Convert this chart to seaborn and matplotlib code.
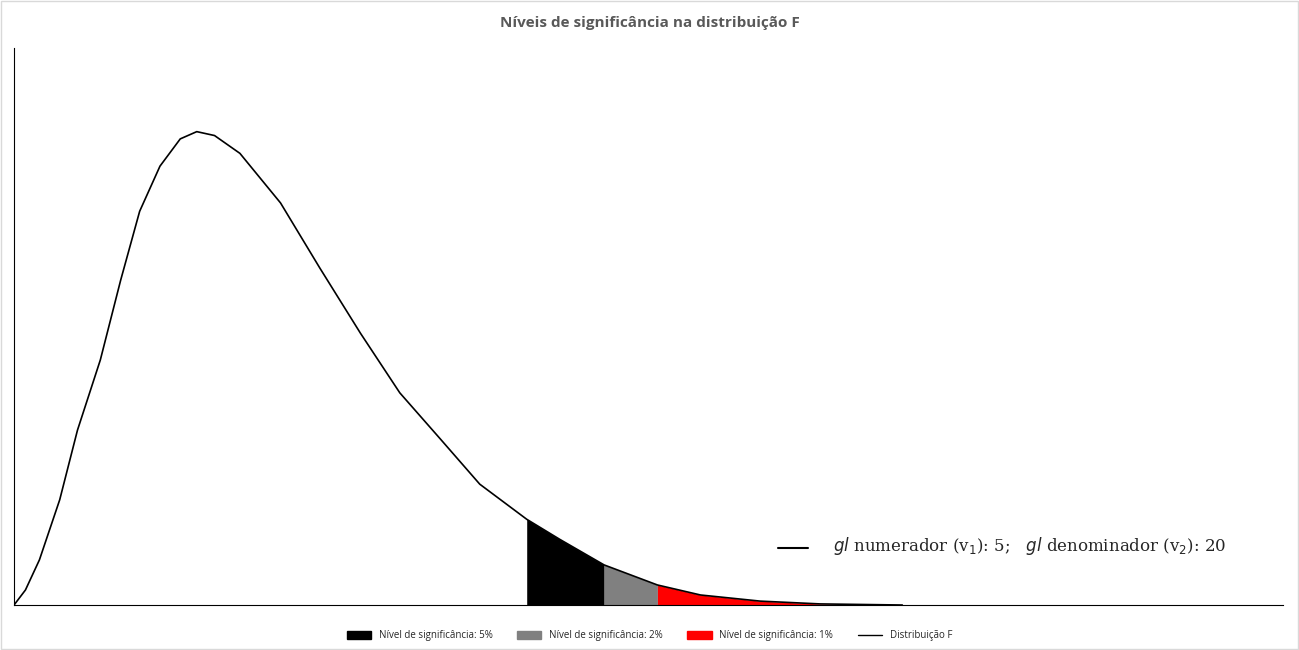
import numpy as np
import matplotlib.pyplot as plt
import seaborn as sns
from matplotlib.patches import Patch
from matplotlib.lines import Line2D

sns.set_style("white")
plt.rcParams["font.family"] = ["Open Sans", "DejaVu Sans"]

# values (x in axis units 0-100, y as density height 0-100)
x_vals = [0, 0.9, 2.0, 3.6, 5.0, 6.8, 8.4, 9.9, 11.5, 13.1, 14.4, 15.8, 17.8,
          21.0, 24.1, 27.3, 30.4, 33.6, 36.7, 40.4, 43.0, 46.5, 50.7, 54.1,
          58.8, 63.5, 70.0]
y_vals = [0, 2.7, 8.1, 18.9, 31.4, 44.0, 58.3, 70.7, 78.8, 83.7, 85.0, 84.3, 81.1,
          72.2, 60.5, 48.8, 38.1, 29.8, 21.7, 15.4, 11.8, 7.2, 3.6, 1.8,
          0.7, 0.2, 0.0]
cut_5, cut_2, cut_1 = 40.4, 46.5, 50.7

x = np.array(x_vals)
y = np.array(y_vals)

fig = plt.figure(figsize=(12.99, 6.5), dpi=100)
ax = fig.add_axes([0.0108, 0.0692, 0.9769, 0.8568])

ax.fill_between(x, y, where=(x >= cut_5) & (x <= cut_2), color="black", linewidth=0)
ax.fill_between(x, y, where=(x >= cut_2) & (x <= cut_1), color="#808080", linewidth=0)
ax.fill_between(x, y, where=(x >= cut_1), color="#ff0000", linewidth=0)
sns.lineplot(x=x_vals, y=y_vals, color="black", linewidth=1.2, ax=ax)

ax.set_xlim(0, 100)
ax.set_ylim(0, 100)
ax.set_xticks([])
ax.set_yticks([])
sns.despine(ax=ax)
for s in ["left", "bottom"]:
    ax.spines[s].set_color("black")
    ax.spines[s].set_linewidth(0.8)

fig.suptitle("Níveis de significância na distribuição F", y=0.975, fontsize=11,
             fontweight="bold", color="#595959")

# annotation with short line
ax.plot([60.2, 62.6], [10.2, 10.2], color="black", linewidth=1.5)
ax.text(64.5, 10.6, r"$gl$ numerador (v$_1$): 5;   $gl$ denominador (v$_2$): 20",
        fontsize=12, family="DejaVu Serif", va="center")

handles = [Patch(color="black", label="Nível de significância: 5%"),
           Patch(color="#808080", label="Nível de significância: 2%"),
           Patch(color="#ff0000", label="Nível de significância: 1%"),
           Line2D([], [], color="black", linewidth=1, label="Distribuição F")]
fig.legend(handles=handles, loc="lower center", ncol=4, frameon=False, fontsize=7,
           bbox_to_anchor=(0.5, 0.0), handlelength=2.5, handleheight=0.8,
           columnspacing=2.5)

fig.patches.append(plt.Rectangle((0.001, 0.001), 0.998, 0.998, transform=fig.transFigure,
                                 fill=False, edgecolor="#d9d9d9", linewidth=1))

fig.savefig("out.png", dpi=100)
